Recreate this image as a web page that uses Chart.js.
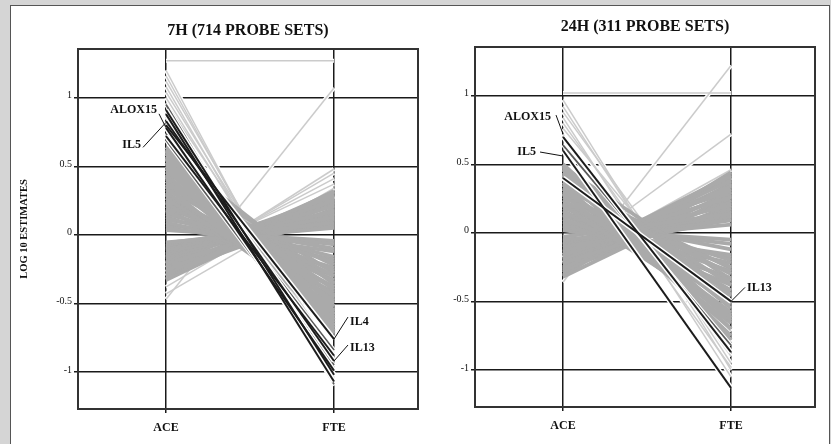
<!DOCTYPE html>
<html>
<head>
<meta charset="utf-8">
<script src="https://cdn.jsdelivr.net/npm/chart.js@4.4.1/dist/chart.umd.min.js"></script>
<style>
  html, body { margin: 0; padding: 0; width: 831px; height: 444px; overflow: hidden; background: #d5d5d5; }
  #sheet { position: absolute; left: 10px; top: 5px; width: 820px; height: 445px; background: #fff;
           border-top: 1px solid #555; border-left: 1px solid #555; border-right: 1px solid #555; box-sizing: border-box; }
  .box { position: absolute; top: 5px; height: 439px; }
  #left { left: 10px; width: 410px; }
  #right { left: 420px; width: 409px; }
</style>
</head>
<body>
<div id="sheet"></div>
<div class="box" id="left"><canvas id="c7"></canvas></div>
<div class="box" id="right"><canvas id="c24"></canvas></div>
<script>
const axisNames = ['ACE', 'FTE'];
const yTickValues = [-1, -0.5, 0, 0.5, 1];
const yTickLabels = ['-1', '-0.5', '0', '0.5', '1'];
const panelTitles = ['7h (714 probe sets)', '24h (311 probe sets)'];
const yTitle = 'log 10 estimates';

// 7h: bulk of probe sets, up at ACE / down at FTE
const h7UpAce = [0.64, 0.62, 0.61, 0.59, 0.57, 0.55, 0.53, 0.52, 0.50, 0.48, 0.46, 0.44, 0.42, 0.41, 0.39, 0.37, 0.35,
                 0.33, 0.31, 0.29, 0.27, 0.25, 0.23, 0.21, 0.19, 0.17, 0.15, 0.13, 0.11, 0.09, 0.07, 0.05, 0.035,
                 0.60, 0.56, 0.49, 0.43, 0.36, 0.30, 0.24, 0.18];
const h7UpFte = [-0.62, -0.72, -0.50, -0.68, -0.58, -0.70, -0.45, -0.64, -0.55, -0.66, -0.40, -0.60, -0.50, -0.35, -0.56, -0.44, -0.62,
                 -0.30, -0.48, -0.38, -0.52, -0.26, -0.42, -0.33, -0.20, -0.30, -0.16, -0.24, -0.10, -0.18, -0.07, -0.12, -0.045,
                 -0.36, -0.52, -0.28, -0.66, -0.22, -0.58, -0.46, -0.38];
// 7h: down at ACE / up at FTE
const h7DnAce = [-0.055, -0.06, -0.07, -0.08, -0.09, -0.11, -0.12, -0.14, -0.15, -0.17, -0.18, -0.20, -0.21, -0.23, -0.24,
                 -0.26, -0.27, -0.29, -0.30, -0.32, -0.33, -0.10, -0.16, -0.22, -0.28];
const h7DnFte = [0.05, 0.09, 0.06, 0.13, 0.08, 0.17, 0.11, 0.21, 0.14, 0.25, 0.18, 0.29, 0.15, 0.31, 0.22,
                 0.27, 0.19, 0.32, 0.24, 0.29, 0.26, 0.23, 0.28, 0.12, 0.16];
// 7h: sparse outliers
const h7LightAce = [1.27, 1.20, 1.16, 1.12, 1.08, 1.04, 1.00, 0.96, -0.47, -0.30, -0.27, -0.24, -0.21, -0.38, -0.43];
const h7LightFte = [1.27, -1.10, -1.06, -0.98, -1.04, -0.92, -0.96, -0.86, 1.07, 0.48, 0.45, 0.41, 0.37, 0.34, 0.28];
const h7MidAce = [0.95, 0.86, 0.74, 0.69];
const h7MidFte = [-1.09, -0.97, -0.84, -0.95];
const h7DarkAce = [0.91, 0.88, 0.83, 0.80, 0.78, 0.72];
const h7DarkFte = [-1.02, -1.07, -0.92, -0.76, -0.99, -0.88];
const h7Genes = ['ALOX15', 'IL5', 'IL4', 'IL13'];
const h7GeneAxis = [0, 0, 1, 1];
const h7GeneValue = [0.78, 0.82, -0.76, -0.92];

// 24h
const h24UpAce = [0.50, 0.49, 0.47, 0.46, 0.44, 0.42, 0.41, 0.39, 0.37, 0.35, 0.33, 0.32, 0.30, 0.28,
                  0.26, 0.24, 0.22, 0.20, 0.18, 0.16, 0.14, 0.12, 0.10, 0.08, 0.06, 0.05, 0.03, 0.02,
                  0.48, 0.43, 0.36, 0.29, 0.21, 0.13];
const h24UpFte = [-0.62, -0.78, -0.45, -0.70, -0.55, -0.75, -0.38, -0.64, -0.50, -0.70, -0.30, -0.58, -0.42, -0.66,
                  -0.25, -0.50, -0.35, -0.60, -0.20, -0.42, -0.28, -0.12, -0.33, -0.18, -0.08, -0.22, -0.05, -0.16,
                  -0.34, -0.62, -0.26, -0.52, -0.46, -0.38];
const h24DnAce = [-0.03, -0.05, -0.06, -0.07, -0.08, -0.10, -0.11, -0.13, -0.14, -0.16, -0.17, -0.19, -0.20, -0.22,
                  -0.23, -0.25, -0.26, -0.28, -0.29, -0.31, -0.32, -0.09, -0.15, -0.21, -0.27];
const h24DnFte = [0.14, 0.06, 0.13, 0.09, 0.20, 0.12, 0.26, 0.16, 0.32, 0.22, 0.38, 0.28, 0.42, 0.18,
                  0.34, 0.24, 0.40, 0.30, 0.36, 0.44, 0.27, 0.30, 0.10, 0.35, 0.20];
const h24LightAce = [1.02, 0.97, 0.92, 0.88, 0.84, 0.80, 0.76, 0.72, -0.36, -0.18, -0.22, -0.16];
const h24LightFte = [1.02, -1.00, -0.95, -0.80, -1.05, -0.90, -0.72, -0.98, 1.22, 0.72, 0.46, 0.40];
const h24MidAce = [0.64];
const h24MidFte = [-0.82];
const h24DarkAce = [0.70, 0.60, 0.40];
const h24DarkFte = [-0.87, -1.13, -0.50];
const h24Genes = ['ALOX15', 'IL5', 'IL13'];
const h24GeneAxis = [0, 0, 1];
const h24GeneValue = [0.72, 0.56, -0.50];

// label placement (px from the anchor): leader end dx, dy, text dx, dy
const h7GeneOffsets = [[-7, -14, -9, -18], [-23, 25, -25, 23], [14, -22, 16, -17], [14, -16, 16, -13]];
const h24GeneOffsets = [[-7, -19, -12, -17], [-23, -4, -27, -4], [14, -14, 16, -13]];

const serif = "'Liberation Serif', 'DejaVu Serif', serif";

function segs(ace, fte, color, width, order) {
  return ace.map((a, i) => ({
    data: [{x: 0, y: a}, {x: 1, y: fte[i]}],
    borderColor: color,
    borderWidth: width,
    pointRadius: 0,
    pointHoverRadius: 0,
    fill: false,
    tension: 0,
    order: order
  }));
}

const framePlugin = {
  id: 'frame',
  afterDraw(chart) {
    const a = chart.chartArea, ctx = chart.ctx;
    ctx.save();
    ctx.strokeStyle = '#333';
    ctx.lineWidth = 2;
    ctx.strokeRect(a.left, a.top, a.right - a.left, a.bottom - a.top);
    ctx.restore();
  }
};

const genePlugin = {
  id: 'genes',
  afterDraw(chart, args, opts) {
    const ctx = chart.ctx, xs = chart.scales.x, ys = chart.scales.y;
    ctx.save();
    ctx.strokeStyle = '#111';
    ctx.fillStyle = '#111';
    ctx.lineWidth = 1;
    ctx.font = 'bold 12px ' + serif;
    ctx.textBaseline = 'middle';
    opts.names.forEach((name, i) => {
      const px = xs.getPixelForValue(opts.axis[i]);
      const py = ys.getPixelForValue(opts.value[i]);
      const o = opts.offsets[i];
      ctx.beginPath();
      ctx.moveTo(px, py);
      ctx.lineTo(px + o[0], py + o[1]);
      ctx.stroke();
      ctx.textAlign = o[2] < 0 ? 'right' : 'left';
      ctx.fillText(name, px + o[2], py + o[3]);
    });
    ctx.restore();
  }
};

function makeChart(id, p) {
  const datasets = [].concat(
    segs(p.darkAce, p.darkFte, '#1c1c1c', 2, 1),
    segs(p.darkAce, p.darkFte, '#ffffff', 5, 2),
    segs(p.midAce, p.midFte, '#5a5a5a', 1.8, 3),
    segs(p.midAce, p.midFte, '#ffffff', 4, 4),
    segs(p.upAce, p.upFte, '#aaaaaa', 3.8, 5),
    segs(p.dnAce, p.dnFte, '#aaaaaa', 3.8, 5),
    segs(p.lightAce, p.lightFte, '#cbcbcb', 1.5, 6),
    segs(p.lightAce, p.lightFte, '#ffffff', 4, 7)
  );
  return new Chart(document.getElementById(id), {
    type: 'line',
    data: { datasets: datasets },
    plugins: [framePlugin, genePlugin],
    options: {
      responsive: true,
      maintainAspectRatio: false,
      animation: false,
      events: [],
      layout: { padding: { left: 0, top: 0, right: p.rightPad, bottom: 0 } },
      plugins: {
        legend: { display: false },
        tooltip: { enabled: false },
        title: {
          display: true,
          text: p.title.toUpperCase(),
          fullSize: false,
          color: '#111',
          font: { family: serif, size: 16, weight: 'bold' },
          padding: { top: p.titleTop, bottom: p.titleBottom }
        },
        genes: { names: p.genes, axis: p.geneAxis, value: p.geneValue, offsets: p.geneOffsets }
      },
      scales: {
        x: {
          type: 'linear',
          min: -0.524,
          max: 1.5,
          z: 1,
          afterBuildTicks: s => { s.ticks = [0, 1].map(v => ({ value: v })); },
          afterFit: s => { s.height = p.xHeight; },
          ticks: {
            callback: v => axisNames[v],
            color: '#111',
            padding: 8,
            maxRotation: 0,
            autoSkip: false,
            font: { family: serif, size: 12, weight: 'bold' }
          },
          grid: { color: '#1a1a1a', lineWidth: 1.5, tickLength: 4 },
          border: { display: false }
        },
        y: {
          type: 'linear',
          min: -1.27,
          max: 1.355,
          z: 1,
          afterBuildTicks: s => { s.ticks = yTickValues.map(v => ({ value: v })); },
          afterFit: s => { s.width = p.yWidth; },
          title: {
            display: p.showYTitle,
            text: yTitle.toUpperCase(),
            color: '#111',
            font: { family: serif, size: 10.5, weight: 'bold' },
            padding: { top: 8, bottom: 0 }
          },
          ticks: {
            callback: (v, i) => yTickLabels[i],
            color: '#111',
            padding: 2,
            labelOffset: -2,
            autoSkip: false,
            font: { family: serif, size: 10 }
          },
          grid: { color: '#1a1a1a', lineWidth: 1.5, tickLength: 4 },
          border: { display: false }
        }
      }
    }
  });
}

makeChart('c7', {
  title: panelTitles[0], titleTop: 16.4, titleBottom: 8.4, rightPad: 2, xHeight: 35, yWidth: 68, showYTitle: true,
  upAce: h7UpAce, upFte: h7UpFte, dnAce: h7DnAce, dnFte: h7DnFte,
  lightAce: h7LightAce, lightFte: h7LightFte, midAce: h7MidAce, midFte: h7MidFte,
  darkAce: h7DarkAce, darkFte: h7DarkFte,
  genes: h7Genes, geneAxis: h7GeneAxis, geneValue: h7GeneValue, geneOffsets: h7GeneOffsets
});

makeChart('c24', {
  title: panelTitles[1], titleTop: 12.4, titleBottom: 10.4, rightPad: 14, xHeight: 37, yWidth: 55, showYTitle: false,
  upAce: h24UpAce, upFte: h24UpFte, dnAce: h24DnAce, dnFte: h24DnFte,
  lightAce: h24LightAce, lightFte: h24LightFte, midAce: h24MidAce, midFte: h24MidFte,
  darkAce: h24DarkAce, darkFte: h24DarkFte,
  genes: h24Genes, geneAxis: h24GeneAxis, geneValue: h24GeneValue, geneOffsets: h24GeneOffsets
});
</script>
</body>
</html>
